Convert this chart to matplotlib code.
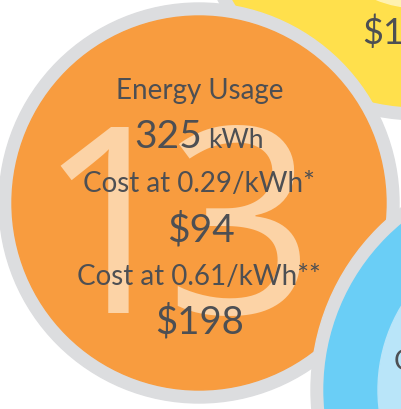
import matplotlib
matplotlib.use("Agg")
import matplotlib.pyplot as plt
from matplotlib.patches import Circle

# ---- data ----
day_label = "13"
usage_kwh = 325
rate_labels = ["Cost at 0.29/kWh*", "Cost at 0.61/kWh**"]
costs = [94, 198]
neighbour_top = "$145"
neighbour_bottom = "Cost"

# ---- colours ----
ring = "#DCDDDF"
orange = "#F89C3F"
peach = "#FCD3A6"
yellow = "#FFE04C"
pale_yellow = "#FFF2B0"
blue = "#6ACEF6"
pale_blue = "#B9E5F9"
txt = "#4D4F53"

plt.rcParams['font.family'] = ['Lato', 'DejaVu Sans']

fig = plt.figure(figsize=(4.02, 4.09), dpi=100)
ax = fig.add_axes([0, 0, 1, 1])
ax.set_xlim(0, 402)
ax.set_ylim(409, 0)
ax.set_aspect('equal')
ax.axis('off')

# yellow bubble (behind)
ax.add_patch(Circle((420, -110), 230, color=ring, zorder=1))
ax.add_patch(Circle((420, -110), 217, color=yellow, zorder=1))
ax.add_patch(Circle((420, -110), 118, color=pale_yellow, zorder=1))
ax.text(362, 44, neighbour_top, fontsize=26, color=txt, ha='left', va='baseline', zorder=2)

# orange bubble
ax.add_patch(Circle((199, 203), 200, color=ring, zorder=3))
ax.add_patch(Circle((199, 203), 187, color=orange, zorder=3))
# big day number, digits placed one by one (tighter than the font's spacing)
for ch, xc in zip(day_label, [111, 240]):
    ax.text(xc, 313, ch, fontsize=188, color=peach, ha='center', va='baseline',
            family=['Open Sans', 'DejaVu Sans'], zorder=4)

ax.text(200, 99, "Energy Usage", fontsize=20, color=txt, ha='center', va='baseline', zorder=5)
ax.text(202, 148, "%d" % usage_kwh, fontsize=28, color=txt, ha='right', va='baseline', zorder=5)
ax.text(208, 148, "kWh", fontsize=19, color=txt, ha='left', va='baseline', zorder=5)
ax.text(199, 192, rate_labels[0], fontsize=20, color=txt, ha='center', va='baseline', zorder=5)
ax.text(201, 241, "$%d" % costs[0], fontsize=28, color=txt, ha='center', va='baseline', zorder=5)
ax.text(199, 285, rate_labels[1], fontsize=20, color=txt, ha='center', va='baseline', zorder=5)
ax.text(200, 334, "$%d" % costs[1], fontsize=27.5, color=txt, ha='center', va='baseline', zorder=5)

# blue bubble (front)
ax.add_patch(Circle((540, 390), 229, color=ring, zorder=6))
ax.add_patch(Circle((540, 390), 216, color=blue, zorder=6))
ax.add_patch(Circle((540, 390), 162, color=pale_blue, zorder=6))
ax.text(394, 370, neighbour_bottom, fontsize=20, color=txt, ha='left', va='baseline', zorder=7)

fig.savefig("out.png", dpi=100, facecolor="white")
